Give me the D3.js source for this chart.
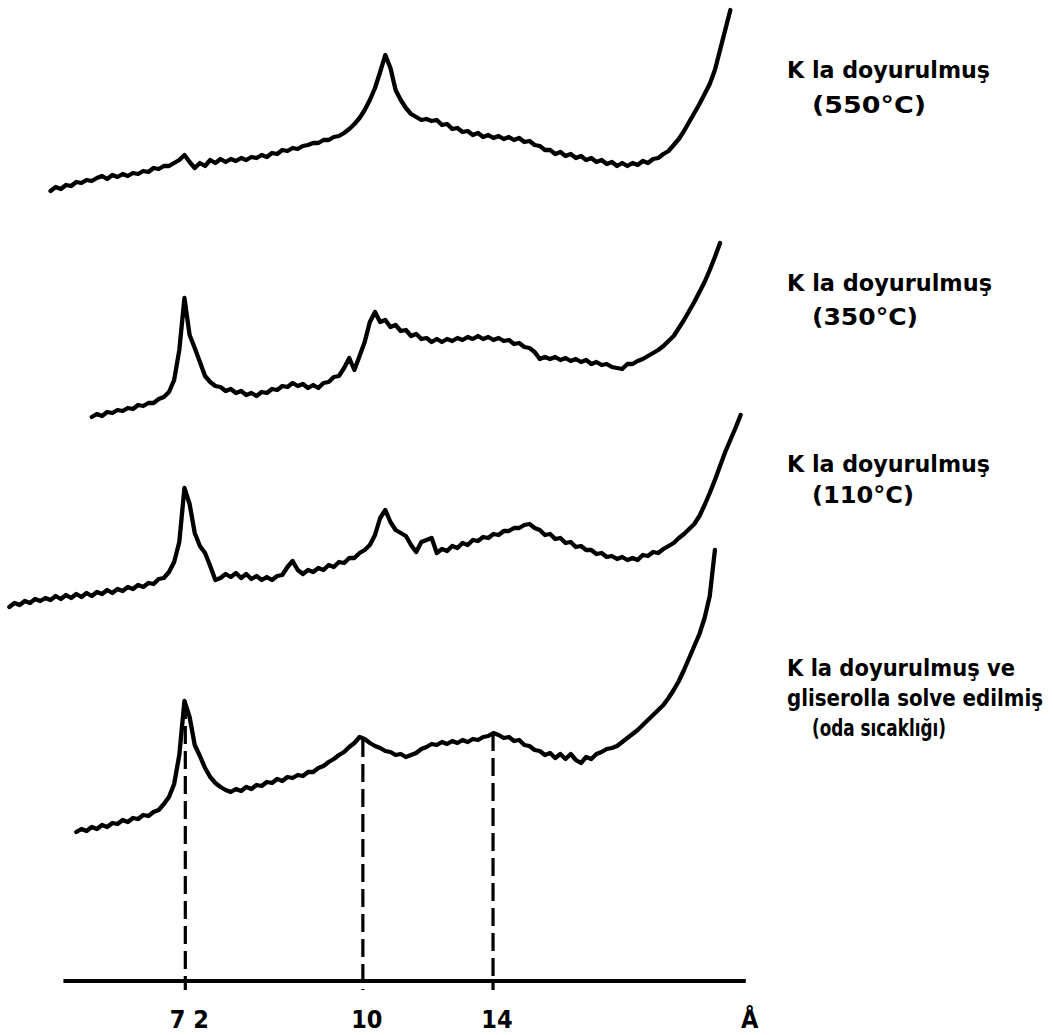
<!DOCTYPE html>
<html>
<head>
<meta charset="utf-8">
<script src="https://cdn.jsdelivr.net/npm/d3@7"></script>
<style>
  body { margin: 0; background: #fff; }
</style>
</head>
<body>
<svg id="chart" width="1053" height="1035"></svg>
<script>
// scan step of the diffractograms, degrees 2-theta
const step = 0.1;

// K saturated, heated to 550 C (2-theta from 14.9 down to 1.7)
const start550 = 14.9;
const int550 = [
  9, 13, 11, 15, 14, 18, 17, 20, 19, 22,
  24, 21, 25, 23, 26, 24, 27, 26, 29, 28,
  32, 31, 34, 34, 37, 40, 45, 38, 32, 37,
  34, 40, 37, 41, 38, 41, 39, 42, 40, 43,
  42, 45, 43, 47, 46, 50, 49, 52, 51, 54,
  55, 57, 57, 60, 60, 63, 64, 67, 71, 76,
  82, 90, 100, 112, 128, 145, 132, 110, 100, 92,
  86, 83, 80, 81, 79, 80, 75, 76, 71, 72,
  68, 69, 65, 67, 63, 65, 62, 64, 61, 63,
  60, 62, 58, 59, 55, 54, 50, 50, 46, 48,
  44, 46, 42, 44, 40, 42, 38, 40, 36, 38,
  34, 37, 34, 37, 35, 39, 37, 41, 42, 46,
  49, 55, 61, 69, 78, 87, 96, 106, 116, 130,
  150, 170, 190
];

// K saturated, 350 C (14.1 down to 1.9)
const start350 = 14.1;
const int350 = [
  3, 6,
  4, 8, 7, 10, 9, 12, 11, 15, 14, 17,
  17, 21, 23, 28, 40, 70, 122, 85, 72, 58,
  44, 38, 34, 33, 29, 31, 27, 29, 25, 27,
  24, 28, 27, 31, 30, 34, 33, 37, 34, 36,
  32, 35, 32, 37, 38, 43, 44, 52, 62, 50,
  64, 78, 98, 108, 98, 100, 93, 95, 89, 90,
  84, 86, 81, 82, 78, 81, 78, 81, 79, 82,
  80, 83, 81, 84, 81, 83, 80, 82, 79, 80,
  76, 77, 73, 72, 68, 61, 63, 61, 63, 60,
  62, 59, 61, 58, 60, 56, 58, 55, 56, 53,
  52, 51, 56, 56, 59, 61, 64, 67, 70, 74,
  79, 84, 92, 100, 109, 118, 128, 138, 150, 163,
  177
];

// K saturated, 110 C (15.7 down to 1.5)
const start110 = 15.7;
const int110 = [
  3, 7, 5, 9, 7, 11, 9, 12,
  10, 14, 11, 15, 12, 16, 13, 17, 14, 18,
  16, 20, 17, 21, 19, 23, 21, 25, 23, 27,
  26, 31, 32, 38, 48, 68, 122, 106, 77, 64,
  57, 44, 30, 32, 36, 33, 37, 32, 36, 31,
  34, 30, 33, 30, 34, 35, 43, 49, 40, 36,
  40, 38, 42, 40, 45, 43, 48, 47, 52, 52,
  57, 60, 65, 75, 92, 100, 88, 80, 77, 74,
  65, 58, 68, 70, 72, 57, 61, 59, 64, 62,
  67, 65, 70, 69, 73, 72, 76, 75, 79, 79,
  82, 82, 85, 86, 82, 80, 75, 76, 71, 72,
  67, 68, 63, 64, 60, 60, 56, 57, 53, 54,
  51, 53, 50, 52, 50, 55, 54, 58, 57, 61,
  64, 67, 72, 76, 81, 86, 94, 105, 117, 130,
  144, 158, 170, 182, 195
];

// K saturated + glycerol, room temperature (14.4 down to 2.0)
const startGly = 14.4;
const intGly = [
  3, 6, 4, 8, 6,
  10, 8, 12, 11, 15, 13, 17, 16, 20, 19,
  23, 25, 31, 38, 51, 80, 134, 118, 90, 79,
  67, 58, 52, 48, 45, 43, 46, 44, 48, 46,
  50, 49, 53, 52, 56, 54, 58, 57, 60, 59,
  63, 63, 67, 69, 73, 76, 80, 83, 88, 92,
  98, 96, 92, 89, 87, 84, 83, 80, 81, 78,
  80, 82, 86, 88, 91, 90, 93, 91, 94, 92,
  95, 93, 96, 95, 98, 99, 102, 100, 97, 98,
  94, 95, 90, 89, 85, 84, 80, 82, 77, 81,
  76, 81, 75, 72, 78, 76, 81, 83, 86, 87,
  89, 93, 97, 101, 105, 110, 115, 120, 125, 130,
  137, 145, 154, 165, 177, 189, 201, 217, 239, 285
];

// vertical offset of each trace on the sheet
const offsets = [800, 580, 390, 165];

const labels = [
  ['K la doyurulmuş', '(550°C)'],
  ['K la doyurulmuş', '(350°C)'],
  ['K la doyurulmuş', '(110°C)'],
  ['K la doyurulmuş ve', 'gliserolla solve edilmiş', '(oda sıcaklığı)']
];

// basal spacings marked on the axis, Angstrom
const tickD = [7.2, 10, 14];
const tickLabels = ['7 2', '10', '14'];
const unitLabel = 'Å';
const axisRange = [14.65, 1.4];

const wavelength = 1.5406; // Cu K-alpha

const starts = [start550, start350, start110, startGly];
const series = [int550, int350, int110, intGly].map((arr, k) =>
  arr.map((v, i) => [+(starts[k] - i * step).toFixed(2), offsets[k] + v])
);

const svg = d3.select('#chart');

const x = d3.scaleLinear().domain([16, 1]).range([-6.1, 766.4]);
const y = d3.scaleLinear().domain([0, 1000]).range([1000, 0]);

const line = d3.line()
  .x((d) => x(d[0]))
  .y((d) => y(d[1]));

svg.append('g')
  .selectAll('path')
  .data(series)
  .join('path')
  .attr('d', line)
  .attr('fill', 'none')
  .attr('stroke', '#000')
  .attr('stroke-width', 4.3)
  .attr('stroke-linejoin', 'round')
  .attr('stroke-linecap', 'round');

// axis
const axisY = 981;
svg.append('line')
  .attr('x1', x(axisRange[0]))
  .attr('x2', x(axisRange[1]))
  .attr('y1', axisY)
  .attr('y2', axisY)
  .attr('stroke', '#000')
  .attr('stroke-width', 4);

const twoTheta = (d) => (2 * Math.asin(wavelength / (2 * d)) * 180) / Math.PI;
const gly = series[3];
const ticks = tickD.map((d, i) => {
  const t = twoTheta(d);
  const near = d3.least(gly, (p) => Math.abs(p[0] - t));
  return { t: t, top: near[1], label: tickLabels[i] };
});

svg.append('g')
  .selectAll('line')
  .data(ticks)
  .join('line')
  .attr('x1', (d) => x(d.t))
  .attr('x2', (d) => x(d.t))
  .attr('y1', (d) => y(d.top))
  .attr('y2', axisY + 9)
  .attr('stroke', '#000')
  .attr('stroke-width', 3.2)
  .attr('stroke-dasharray', '18 7');

const tickFont = (sel) => sel
  .style('font-family', 'DejaVu Sans Condensed, DejaVu Sans')
  .style('font-weight', 'bold')
  .style('font-size', '25px');

svg.append('g')
  .selectAll('text')
  .data(ticks)
  .join('text')
  .attr('x', (d) => x(d.t) + 4)
  .attr('y', 1028)
  .attr('text-anchor', 'middle')
  .call(tickFont)
  .text((d) => d.label);

svg.append('text')
  .attr('x', x(axisRange[1]) + 4)
  .attr('y', 1028)
  .attr('text-anchor', 'middle')
  .call(tickFont)
  .text(unitLabel);

// legend text at the right of each trace
const labelTop = [78, 291, 472, 676];
const lineGap = [35, 34, 31, 30];
const labelWidths = [
  [203, 114],
  [205, 106],
  [203, 102],
  [228, 256, 134]
];
const labelG = svg.append('g')
  .style('font-family', 'DejaVu Sans Condensed, DejaVu Sans')
  .style('font-weight', 'bold')
  .style('font-size', '23px');

labels.forEach((lines, k) => {
  lines.forEach((txt, j) => {
    const paren = txt.startsWith('(');
    labelG.append('text')
      .attr('x', paren ? 812 : 787)
      .attr('y', labelTop[k] + j * lineGap[k])
      .attr('textLength', labelWidths[k][j])
      .attr('lengthAdjust', 'spacingAndGlyphs')
      .text(txt);
  });
});
</script>
</body>
</html>
